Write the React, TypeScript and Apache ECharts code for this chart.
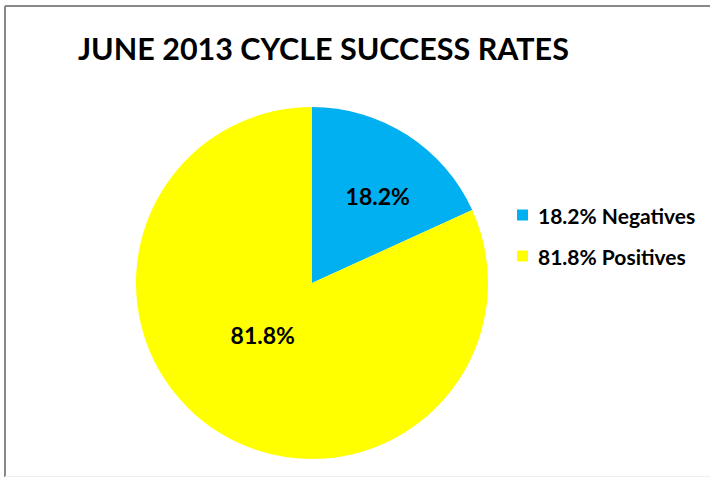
import React, { useEffect, useRef } from "react";
import * as echarts from "echarts";

const titleText = "JUNE 2013 CYCLE SUCCESS RATES";
const categories = ["Negatives", "Positives"];
const values = [18.2, 81.8];
const colors = ["#00B0F0", "#FFFF00"];
const labelOffsets: [number, number][] = [[16.5, -10], [0, -25]];

export default function App() {
  const ref = useRef<HTMLDivElement>(null);
  useEffect(() => {
    if (!ref.current) return;
    const chart = echarts.init(ref.current, undefined, { renderer: "svg" });
    const font = "Lato";
    chart.setOption({
      animation: false,
      backgroundColor: "#ffffff",
      title: {
        text: titleText,
        left: 73,
        top: 27,
        textStyle: { fontFamily: font, fontWeight: "bold", fontSize: 30.5, color: "#000" },
      },
      legend: {
        orient: "vertical",
        left: 512,
        top: 199.5,
        itemWidth: 11,
        itemHeight: 11,
        itemGap: 20,
        icon: "rect",
        data: categories,
        formatter: (name: string) => {
          const i = categories.indexOf(name);
          return `${values[i].toFixed(1)}% ${name}`;
        },
        textStyle: { fontFamily: font, fontWeight: "bold", fontSize: 21, color: "#000", padding: [0, 0, 0, 5] },
      },
      graphic: [
        { type: "line", shape: { x1: 5, y1: 6, x2: 710, y2: 6 }, style: { stroke: "#888", lineWidth: 2 } },
        { type: "line", shape: { x1: 5, y1: 6, x2: 5, y2: 477 }, style: { stroke: "#888", lineWidth: 2 } },
        { type: "line", shape: { x1: 5, y1: 476.5, x2: 710, y2: 476.5 }, style: { stroke: "#eee", lineWidth: 1 } },
      ],
      series: [
        {
          type: "pie",
          center: [312, 283],
          radius: [0, 176],
          startAngle: 90,
          clockwise: true,
          label: {
            show: true,
            position: "inside",
            formatter: (p: any) => `${p.value.toFixed(1)}%`,
            fontFamily: font,
            fontSize: 23,
            fontWeight: "bold",
            color: "#000",
          },
          labelLine: { show: false },
          emphasis: { disabled: true },
          itemStyle: { borderWidth: 0 },
          data: categories.map((c, i) => ({
            name: c,
            value: values[i],
            itemStyle: { color: colors[i] },
            label: { offset: labelOffsets[i] },
          })),
        },
      ],
    });
    return () => chart.dispose();
  }, []);
  return <div ref={ref} style={{ position: "fixed", left: 0, top: 0, width: 710, height: 477 }} />;
}
